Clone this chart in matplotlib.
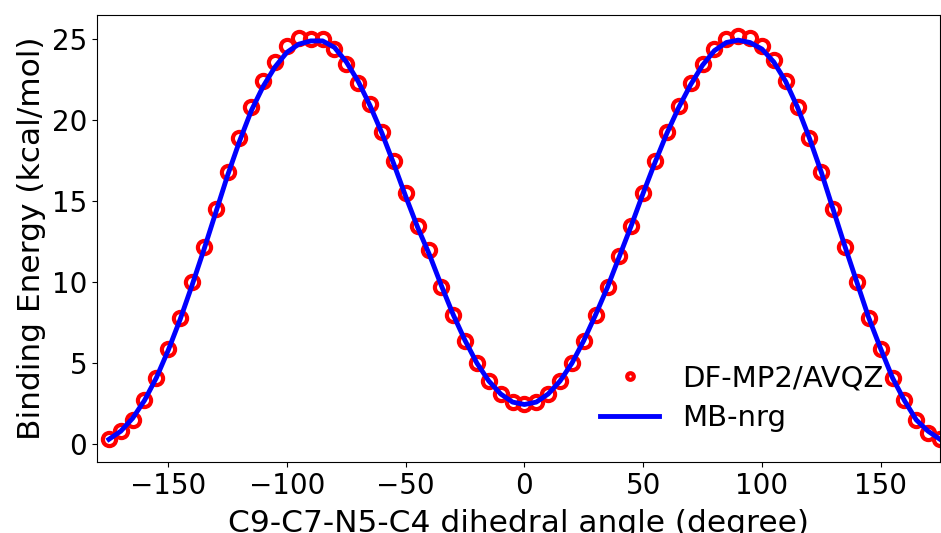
import numpy as np
import matplotlib
matplotlib.use("Agg")
import matplotlib.pyplot as plt

# dihedral angles (degree)
angles = np.arange(-175, 180, 5)

# DF-MP2/AVQZ reference energies (kcal/mol)
ref_energy = [0.3, 0.8, 1.5, 2.7, 4.1, 5.9, 7.8, 10.0, 12.2, 14.5,
              16.8, 18.9, 20.8, 22.4, 23.6, 24.6, 25.1, 25.0, 25.0, 24.4,
              23.5, 22.3, 21.0, 19.3, 17.5, 15.5, 13.5, 12.0, 9.7, 8.0,
              6.4, 5.0, 3.9, 3.1, 2.6, 2.5, 2.6, 3.1, 3.9, 5.0,
              6.4, 8.0, 9.7, 11.6, 13.5, 15.5, 17.5, 19.3, 20.9, 22.3,
              23.5, 24.4, 25.0, 25.2, 25.1, 24.6, 23.7, 22.4, 20.8, 18.9,
              16.8, 14.5, 12.2, 10.0, 7.8, 5.9, 4.1, 2.7, 1.5, 0.7,
              0.3]

# MB-nrg fit (kcal/mol)
fit_energy = [0.3, 0.8, 1.6, 2.7, 4.1, 5.8, 7.7, 9.8, 12.0, 14.3,
              16.6, 18.7, 20.6, 22.1, 23.3, 24.2, 24.7, 24.9, 24.9, 24.5,
              23.6, 22.4, 20.9, 19.2, 17.3, 15.3, 13.4, 11.7, 9.8, 8.0,
              6.4, 5.0, 3.9, 3.1, 2.6, 2.45, 2.6, 3.1, 3.9, 5.0,
              6.4, 8.0, 9.7, 11.6, 13.5, 15.5, 17.4, 19.2, 20.8, 22.2,
              23.4, 24.3, 24.8, 24.95, 24.8, 24.4, 23.6, 22.4, 20.8, 18.9,
              16.8, 14.5, 12.2, 10.0, 7.8, 5.9, 4.1, 2.7, 1.5, 0.8,
              0.3]

fig = plt.figure(figsize=(9.41, 5.33), dpi=100)
ax = fig.add_axes([97 / 941, 1 - 462 / 533, 843 / 941, 447 / 533])

ax.plot(angles, ref_energy, 'o', markerfacecolor='none', markeredgecolor='red',
        markeredgewidth=3, markersize=9.5, label='DF-MP2/AVQZ', zorder=2)
ax.plot(angles, fit_energy, '-', color='blue', linewidth=3.5, label='MB-nrg', zorder=3)

ax.set_xlim(-180, 175)
ax.set_ylim(-1.1, 26.5)
ax.set_xlabel('C9-C7-N5-C4 dihedral angle (degree)', fontsize=22.5, labelpad=7)
ax.set_ylabel('Binding Energy (kcal/mol)', fontsize=22.5)
ax.tick_params(labelsize=20)

ax.legend(loc='lower right', bbox_to_anchor=(0.964, 0.008), frameon=False,
          fontsize=21, markerscale=0.5, labelspacing=0.4)

fig.savefig('out.png', dpi=100)
